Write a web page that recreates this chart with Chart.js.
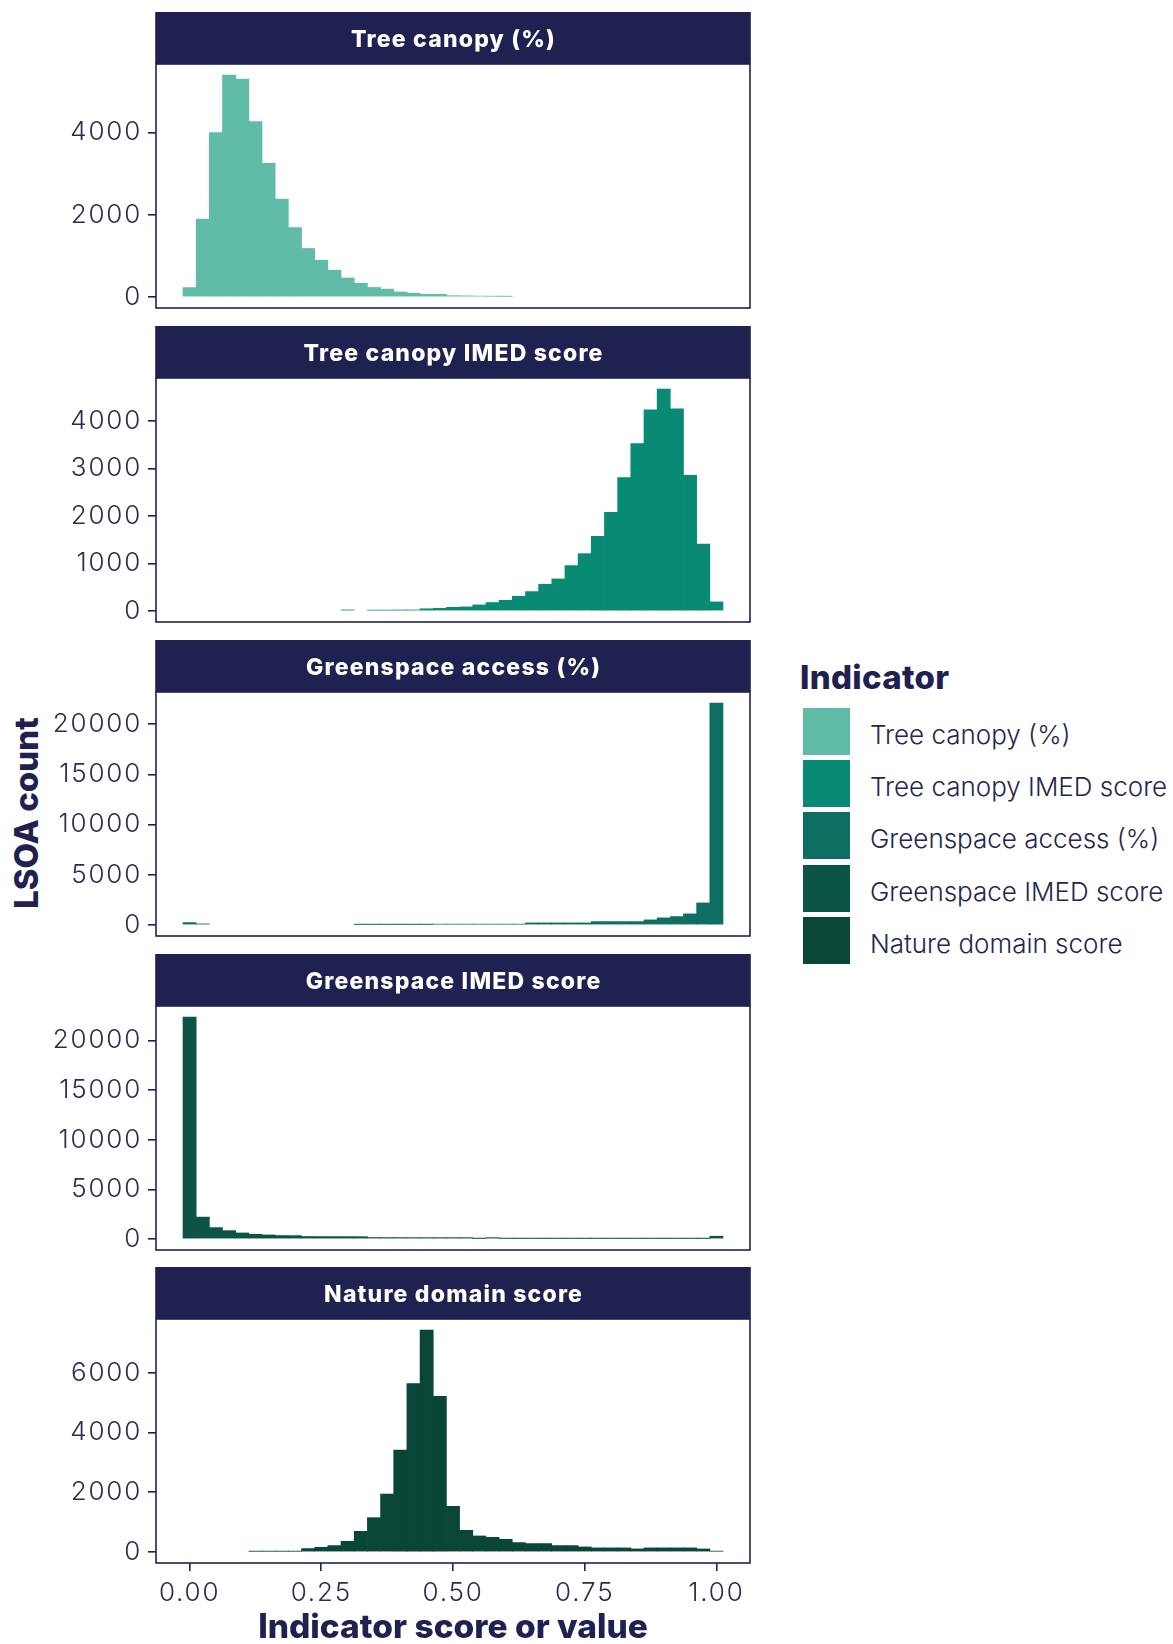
<!DOCTYPE html>
<html>
<head>
<meta charset="utf-8">
<script src="https://cdn.jsdelivr.net/npm/chart.js@4.4.1/dist/chart.umd.min.js"></script>
<style>
html,body{margin:0;padding:0;background:#ffffff;}
#wrap{position:relative;width:1173px;height:1644px;overflow:hidden;background:#fff;}
.pc{position:absolute;left:0;width:760px;}
#ylab{position:absolute;left:26px;top:813px;transform:translate(-50%,-50%) rotate(-90deg);font:800 33px Inter,sans-serif;color:#1f2150;white-space:nowrap;}
#legend{position:absolute;left:800px;top:654px;font-family:Inter,sans-serif;color:#1f2150;}
#legend .ttl{font-weight:800;font-size:33px;height:51px;line-height:40px;position:relative;top:3px;letter-spacing:0.3px;}
#legend .it{display:flex;align-items:center;height:52.3px;}
#legend .sw{width:47px;height:47px;margin-left:3px;margin-right:20px;}
#legend .lb{font-weight:300;font-size:26px;color:#23264d;position:relative;top:3px;}
</style>
</head>
<body>
<div id="wrap">
  <div id="ylab">LSOA count</div>
  <div id="legend"></div>
</div>
<script>
// ---- data ----
const binCenters = [0, 0.025, 0.05, 0.075, 0.1, 0.125, 0.15, 0.175, 0.2, 0.225, 0.25, 0.275, 0.3, 0.325, 0.35, 0.375, 0.4, 0.425, 0.45, 0.475, 0.5, 0.525, 0.55, 0.575, 0.6, 0.625, 0.65, 0.675, 0.7, 0.725, 0.75, 0.775, 0.8, 0.825, 0.85, 0.875, 0.9, 0.925, 0.95, 0.975, 1.0];

const indicatorNames = ["Tree canopy (%)", "Tree canopy IMED score", "Greenspace access (%)", "Greenspace IMED score", "Nature domain score"];

const treeCanopyPct = [227, 1895, 4000, 5400, 5300, 4270, 3250, 2380, 1690, 1180, 890, 650, 460, 330, 230, 190, 120, 90, 65, 65, 30, 25, 20, 15, 12, 0, 0, 0, 0, 0, 0, 0, 0, 0, 0, 0, 0, 0, 0, 0, 0];

const treeCanopyImed = [0, 0, 0, 0, 0, 0, 0, 0, 0, 0, 0, 0, 20, 0, 15, 15, 20, 20, 45, 55, 75, 85, 126, 176, 225, 309, 407, 562, 674, 955, 1207, 1572, 2078, 2808, 3524, 4240, 4675, 4261, 2857, 1411, 190];

const greenspaceAccessPct = [232, 100, 0, 0, 0, 0, 0, 0, 0, 0, 0, 0, 0, 40, 40, 40, 40, 40, 40, 70, 70, 70, 70, 70, 70, 70, 200, 200, 200, 200, 200, 330, 330, 330, 330, 500, 700, 830, 1100, 2190, 22100];

const greenspaceImed = [22380, 2200, 1140, 835, 600, 470, 400, 340, 330, 240, 235, 230, 230, 225, 140, 135, 135, 130, 130, 130, 130, 130, 40, 130, 40, 40, 40, 40, 40, 40, 40, 40, 40, 40, 40, 40, 40, 40, 40, 40, 270];

const natureDomain = [0, 0, 0, 0, 0, 20, 20, 20, 20, 112, 156, 212, 357, 691, 1148, 1940, 3412, 5642, 7437, 5218, 1528, 725, 535, 490, 424, 312, 279, 279, 212, 212, 167, 134, 134, 134, 100, 134, 134, 134, 134, 100, 22];

const xTickValues = [0, 0.25, 0.5, 0.75, 1.0];
const yTicksTreeCanopy = [0, 2000, 4000];
const yTicksTreeImed = [0, 1000, 2000, 3000, 4000];
const yTicksGreenAccess = [0, 5000, 10000, 15000, 20000];
const yTicksGreenImed = [0, 5000, 10000, 15000, 20000];
const yTicksNature = [0, 2000, 4000, 6000];

const xAxisTitle = 'Indicator score or value';

// ---- styling ----
const NAVY = '#1f2150';
const TICKCOL = '#2a2c50';
const colors = ['#60bba7', '#098a74', '#0f6e62', '#0b5446', '#0a4638'];
const seriesList = [treeCanopyPct, treeCanopyImed, greenspaceAccessPct, greenspaceImed, natureDomain];
const yTickList = [yTicksTreeCanopy, yTicksTreeImed, yTicksGreenAccess, yTicksGreenImed, yTicksNature];
const stripTops = [12, 326, 640, 954, 1267];
const STRIP_H = 52;
const PANEL_H = 244;
const AXIS_LEFT = 156;
const TICK_FONT = { family: 'Inter', size: 26, weight: '300' };

const facetPlugin = {
  id: 'facet',
  beforeDraw(chart, args, opts) {
    const a = chart.chartArea, c = chart.ctx;
    c.save();
    c.fillStyle = NAVY;
    c.fillRect(a.left - 0.8, a.top - STRIP_H, a.right - a.left + 1.6, STRIP_H);
    c.fillStyle = '#ffffff';
    c.font = '800 23px Inter, sans-serif';
    c.letterSpacing = '1.2px';
    c.textAlign = 'center';
    c.textBaseline = 'middle';
    c.fillText(opts.title, (a.left + a.right) / 2 + 0.6, a.top - STRIP_H / 2 + 2);
    c.restore();
    c.letterSpacing = '1.8px';
  },
  afterDatasetsDraw(chart) {
    const a = chart.chartArea, c = chart.ctx;
    c.save();
    c.strokeStyle = NAVY;
    c.lineWidth = 1.6;
    c.strokeRect(a.left, a.top, a.right - a.left, a.bottom - a.top);
    c.restore();
  },
  afterDraw(chart, args, opts) {
    if (!opts.xTitle) return;
    const a = chart.chartArea, c = chart.ctx;
    c.save();
    c.letterSpacing = '0px';
    c.fillStyle = NAVY;
    c.font = '800 33.5px Inter, sans-serif';
    c.textAlign = 'center';
    c.textBaseline = 'alphabetic';
    c.fillText(opts.xTitle, (a.left + a.right) / 2, a.bottom + 75);
    c.restore();
  }
};

const wrap = document.getElementById('wrap');

seriesList.forEach((series, i) => {
  const isLast = i === seriesList.length - 1;
  const box = document.createElement('div');
  box.className = 'pc';
  box.style.top = stripTops[i] + 'px';
  const h = isLast ? (1644 - stripTops[i]) : (STRIP_H + PANEL_H + 2);
  box.style.height = h + 'px';
  const cv = document.createElement('canvas');
  box.appendChild(cv);
  wrap.appendChild(box);
  const maxV = Math.max(...series);
  const yt = yTickList[i];
  const points = binCenters.map((x, k) => ({ x: x, y: series[k] })).filter(p => p.y > 0);
  new Chart(cv.getContext('2d'), {
    type: 'bar',
    data: {
      datasets: [{
        label: indicatorNames[i],
        data: points,
        backgroundColor: colors[i],
        borderWidth: 0,
        barPercentage: 1,
        categoryPercentage: 1
      }]
    },
    options: {
      responsive: true,
      maintainAspectRatio: false,
      animation: false,
      events: [],
      layout: { padding: { top: STRIP_H, right: 10, bottom: isLast ? 0 : 2, left: 0 } },
      plugins: {
        legend: { display: false },
        tooltip: { enabled: false },
        facet: { title: indicatorNames[i], xTitle: isLast ? xAxisTitle : '' }
      },
      scales: {
        x: {
          type: 'linear',
          min: -0.06375,
          max: 1.06375,
          offset: false,
          display: isLast,
          afterBuildTicks: s => { s.ticks = xTickValues.map(v => ({ value: v })); },
          afterFit: s => { if (isLast) s.height = 81; },
          ticks: {
            autoSkip: false,
            maxRotation: 0,
            padding: 7,
            color: TICKCOL,
            font: TICK_FONT,
            callback: v => Number(v).toFixed(2)
          },
          grid: { drawOnChartArea: false, drawTicks: true, tickLength: 8, color: NAVY, lineWidth: 1.6, offset: false },
          border: { display: false },
          title: { display: false }
        },
        y: {
          type: 'linear',
          min: -0.05 * maxV,
          max: 1.05 * maxV,
          afterBuildTicks: s => { s.ticks = yt.map(v => ({ value: v })); },
          afterFit: s => { s.width = AXIS_LEFT; s.paddingTop = 0; s.paddingBottom = 0; },
          ticks: {
            padding: 6,
            color: TICKCOL,
            font: TICK_FONT,
            callback: v => String(v)
          },
          grid: { drawOnChartArea: false, drawTicks: true, tickLength: 8, color: NAVY, lineWidth: 1.6 },
          border: { display: false }
        }
      }
    },
    plugins: [facetPlugin]
  });
});

// legend
const lg = document.getElementById('legend');
const t = document.createElement('div'); t.className = 'ttl'; t.textContent = 'Indicator'; lg.appendChild(t);
indicatorNames.forEach((n, i) => {
  const it = document.createElement('div'); it.className = 'it';
  const sw = document.createElement('div'); sw.className = 'sw'; sw.style.background = colors[i];
  const lb = document.createElement('div'); lb.className = 'lb'; lb.textContent = n;
  it.appendChild(sw); it.appendChild(lb); lg.appendChild(it);
});
</script>
</body>
</html>
